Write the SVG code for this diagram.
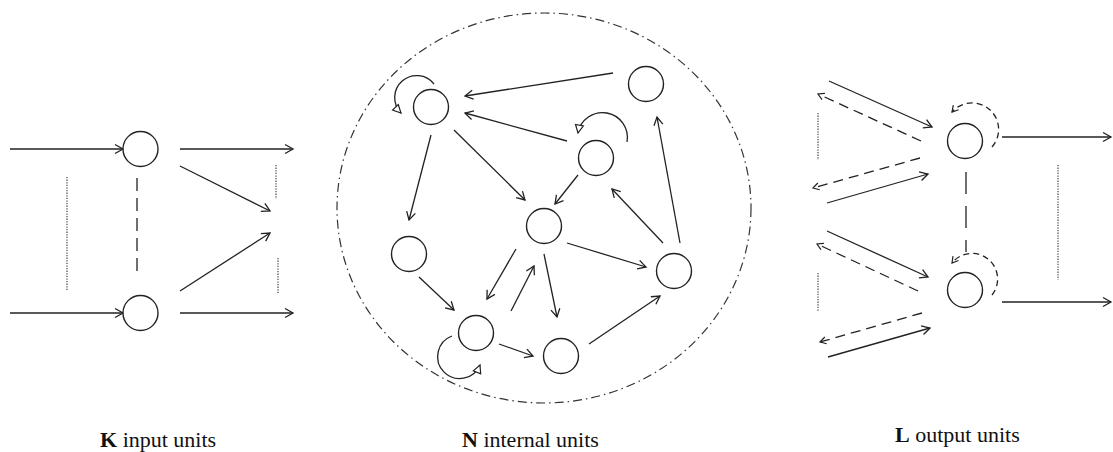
<svg xmlns="http://www.w3.org/2000/svg" width="1113" height="452" viewBox="0 0 1113 452">
<style>
.node{fill:#fff;stroke:#222;stroke-width:1.4}
.e{fill:none;stroke:#222;stroke-width:1.3}
.a{marker-end:url(#ah)}
.d{stroke-dasharray:10,6}
.ds{stroke-dasharray:6,4}
.dot{fill:none;stroke:#444;stroke-width:1.2;stroke-dasharray:1.3,1.3}
.loop{marker-end:url(#tri)}
.lbl{font-family:"Liberation Serif","Times New Roman",serif;font-size:22px;fill:#111}
</style>
<defs>
<marker id="ah" markerUnits="userSpaceOnUse" markerWidth="12" markerHeight="12" refX="9" refY="5" orient="auto" viewBox="0 0 12 10">
<path d="M1,0.5 L9,5 L1,9.5" fill="none" stroke="#222" stroke-width="1.3"/>
</marker>
<marker id="tri" markerUnits="userSpaceOnUse" markerWidth="12" markerHeight="12" refX="9" refY="5" orient="auto" viewBox="0 0 12 10">
<path d="M1,1 L9,5 L1,9 Z" fill="#fff" stroke="#222" stroke-width="1.2"/>
</marker>
<marker id="sh" markerUnits="userSpaceOnUse" markerWidth="10" markerHeight="10" refX="7" refY="4" orient="auto" viewBox="0 0 10 8">
<path d="M1,0.5 L7,4 L1,7.5" fill="none" stroke="#222" stroke-width="1.2"/>
</marker>
</defs>
<rect width="1113" height="452" fill="#fff"/>

<g id="connectors">
<!-- input section -->
<line class="e a" x1="10" y1="149" x2="123" y2="149"/>
<line class="e a" x1="10" y1="313" x2="123" y2="313"/>
<line class="dot" x1="67" y1="177" x2="67" y2="291"/>
<line class="e" x1="137" y1="178" x2="137" y2="277" style="stroke-dasharray:13,7"/>
<line class="e a" x1="180" y1="149" x2="293" y2="149"/>
<line class="e a" x1="180" y1="313" x2="293" y2="313"/>
<line class="e a" x1="180" y1="166" x2="270" y2="211"/>
<line class="e a" x1="180" y1="291" x2="270" y2="233"/>
<line class="dot" x1="276" y1="165" x2="276" y2="199"/>
<line class="dot" x1="278" y1="258" x2="278" y2="293"/>

<!-- internal boundary -->
<ellipse cx="544" cy="208" rx="207" ry="195" fill="none" stroke="#333" stroke-width="1.2" stroke-dasharray="9,4,1.5,4"/>

<!-- internal edges -->
<line class="e a" x1="613" y1="73" x2="465" y2="96"/>
<line class="e a" x1="567" y1="141" x2="465" y2="113"/>
<line class="e a" x1="431" y1="135" x2="409" y2="220"/>
<line class="e a" x1="454" y1="130" x2="525" y2="200"/>
<line class="e a" x1="578" y1="175" x2="555" y2="204"/>
<line class="e a" x1="663" y1="243" x2="612" y2="189"/>
<line class="e a" x1="680" y1="243" x2="657" y2="117"/>
<line class="e a" x1="419" y1="277" x2="454" y2="310"/>
<line class="e a" x1="516" y1="249" x2="487" y2="299"/>
<line class="e a" x1="511" y1="311" x2="534" y2="266"/>
<line class="e a" x1="544" y1="254" x2="557" y2="317"/>
<line class="e a" x1="567" y1="243" x2="646" y2="267"/>
<line class="e a" x1="499" y1="344" x2="533" y2="356"/>
<line class="e a" x1="589" y1="344" x2="660" y2="296"/>
<path class="e loop" d="M434,84 A22,22 0 1 0 401,113"/>
<path class="e loop" d="M627,142 A24,24 0 1 0 578,133"/>
<path class="e loop" d="M452,336 A22,22 0 1 0 480,365"/>

<!-- output section -->
<line class="e a" x1="829" y1="81" x2="932" y2="127"/>
<line class="e d" x1="921" y1="141" x2="818" y2="94" marker-end="url(#sh)"/>
<line class="dot" x1="818" y1="113" x2="818" y2="160"/>
<line class="e d" x1="920" y1="158" x2="813" y2="188" marker-end="url(#sh)"/>
<line class="e a" x1="827" y1="203" x2="928" y2="174"/>
<line class="e a" x1="827" y1="231" x2="928" y2="277"/>
<line class="e d" x1="918" y1="291" x2="817" y2="244" marker-end="url(#sh)"/>
<line class="dot" x1="818" y1="273" x2="818" y2="311"/>
<line class="e d" x1="922" y1="313" x2="820" y2="342" marker-end="url(#sh)"/>
<line class="e a" x1="828" y1="357" x2="930" y2="328"/>
<line class="e" x1="966" y1="172" x2="966" y2="252" style="stroke-dasharray:22,12"/>
<path class="e ds" d="M992,147 A25,25 0 1 0 952,112" marker-end="url(#sh)"/>
<path class="e ds" d="M992,295 A24,24 0 1 0 952,263" marker-end="url(#sh)"/>
<line class="e a" x1="1002" y1="137" x2="1111" y2="137"/>
<line class="e a" x1="1002" y1="302" x2="1111" y2="302"/>
<line class="dot" x1="1058" y1="165" x2="1058" y2="280"/>
</g>

<g id="input-units">
<circle id="in1" class="node" cx="140.5" cy="149" r="17.5"/>
<circle id="in2" class="node" cx="140.5" cy="313" r="17.5"/>
</g>
<g id="internal-units">
<circle id="nA" class="node" cx="431" cy="107" r="17.5"/>
<circle id="nB" class="node" cx="646" cy="84" r="17.5"/>
<circle id="nC" class="node" cx="596" cy="158" r="17.5"/>
<circle id="nD" class="node" cx="544" cy="226" r="17.5"/>
<circle id="nE" class="node" cx="409" cy="254" r="17.5"/>
<circle id="nF" class="node" cx="674" cy="271" r="17.5"/>
<circle id="nG" class="node" cx="476" cy="333" r="17.5"/>
<circle id="nH" class="node" cx="561" cy="356" r="17.5"/>
</g>
<g id="output-units">
<circle id="out1" class="node" cx="965" cy="141" r="17.5"/>
<circle id="out2" class="node" cx="965" cy="290" r="17.5"/>
</g>

<g id="labels">
<text class="lbl" x="100" y="447"><tspan font-weight="bold">K</tspan> input units</text>
<text class="lbl" x="462" y="447"><tspan font-weight="bold">N</tspan> internal units</text>
<text class="lbl" x="895" y="442"><tspan font-weight="bold">L</tspan> output units</text>
</g>
</svg>
